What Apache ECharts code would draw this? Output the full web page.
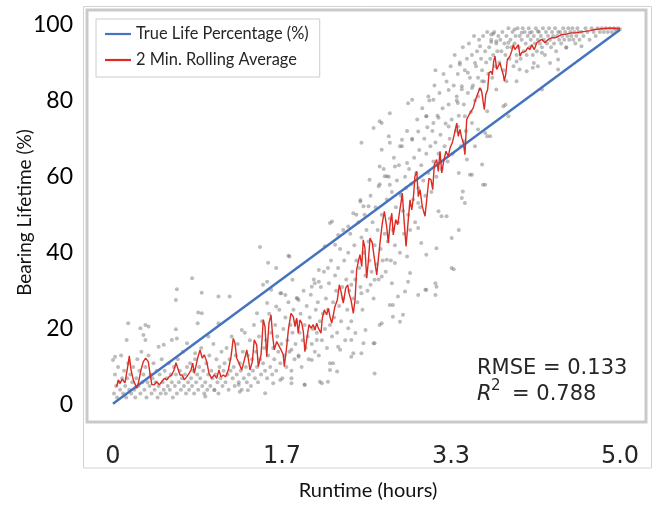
<!DOCTYPE html>
<html>
<head>
<meta charset="utf-8">
<script src="https://cdn.jsdelivr.net/npm/echarts@6/dist/echarts.min.js"></script>
<style>
  html, body { margin: 0; padding: 0; background: #fff; }
  #chart { width: 654px; height: 506px; }
</style>
</head>
<body>
<div id="chart"></div>
<script>
// tick labels
const xTickValues = [0, 1.667, 3.333, 5.0];
const xTickLabels = ['0', '1.7', '3.3', '5.0'];
const yTickValues = [0, 20, 40, 60, 80, 100];

// true life line (hours, %)
const trueLife = [[0, 0.3], [5.0, 98.6]];

// 2 min rolling average
const rollingX = [
  0.036,0.052,0.069,0.092,0.118,0.145,0.161,0.178,0.200,0.234,0.250,0.276,0.299,0.322,0.348,0.365,0.382,0.407,0.431,0.457,
  0.480,0.506,0.530,0.552,0.579,0.602,0.621,0.638,0.661,0.683,0.703,0.727,0.750,0.769,0.786,0.802,
  0.835,0.858,0.881,0.900,0.924,0.947,0.973,0.999,1.023,1.045,1.065,1.088,1.111,1.137,1.164,1.186,1.203,1.220,1.243,1.269,
  1.295,1.319,1.334,1.351,1.374,1.393,1.417,1.433,1.460,1.482,1.499,1.516,1.538,1.558,1.575,1.591,1.614,1.630,1.657,1.679,
  1.689,1.713,1.729,1.755,1.778,
  1.795,1.812,1.827,1.844,1.861,1.877,1.893,1.910,1.933,1.953,1.975,1.992,2.009,2.025,2.051,2.064,2.084,2.107,2.123,2.140,
  2.157,2.173,2.189,2.212,2.232,2.249,2.271,2.295,2.315,2.327,2.347,2.370,2.387,2.403,2.419,2.436,2.453,2.468,2.485,2.502,
  2.518,2.535,2.557,2.577,2.601,
  2.633,2.656,2.676,2.699,2.715,2.732,2.749,2.764,2.788,2.808,2.824,2.840,2.853,2.870,2.890,2.912,2.929,2.946,2.962,2.978,
  2.995,3.011,3.028,3.050,3.077,3.097,3.116,3.136,3.153,3.169,3.192,3.208,3.225,3.242,3.264,3.284,3.307,3.323,3.346,3.366,
  3.390,3.405,3.422,3.439,3.455,3.471,3.488,3.504,3.521,3.538,3.553,3.570,3.587,3.603,3.619,3.636,3.652,3.662,3.676,3.695,
  3.708,3.728,3.741,3.754,3.767,3.784,3.800,3.817,3.833,3.849,3.859,3.873,3.889,3.915,3.932,3.948,3.964,3.981,3.997,4.014,
  4.031,4.046,4.070,4.090,4.112,4.129,4.155,
  4.179,4.194,4.228,4.260,4.293,4.326,4.359,4.391,4.425,4.458,4.490,4.524,4.556,4.606,4.655,4.704,4.753,4.820,4.885,4.951,
  5.000
];
const rollingY = [
  4.8,6.6,5.7,6.8,5.8,10.1,12.9,9.2,6.6,4.4,5.7,9.2,11.4,12.3,11.4,8.3,5.4,5.3,6.1,5.3,
  6.1,7.0,6.6,7.4,7.9,9.2,11.1,11.0,7.9,7.9,6.6,7.4,8.3,9.2,11.0,8.3,
  12.3,14.5,12.3,13.2,11.4,8.3,7.0,7.9,7.0,9.2,7.4,7.9,7.4,9.2,12.7,17.5,16.2,12.3,11.0,9.2,
  11.8,14.5,12.3,9.2,11.4,17.1,15.8,10.1,13.2,22.4,20.6,12.7,21.5,23.7,18.0,14.5,16.7,17.1,14.5,13.2,
  10.1,15.3,19.7,24.1,23.2,
  20.6,22.8,18.9,22.4,21.5,19.3,14.0,17.1,21.1,20.2,21.1,19.7,21.5,20.2,18.9,22.8,25.0,23.7,25.4,23.2,
  21.5,23.7,25.9,27.6,31.6,29.8,26.8,30.7,31.6,29.4,27.6,24.1,27.6,35.5,37.7,39.5,36.4,43.4,41.2,33.3,
  37.7,43.9,42.6,38.6,34.2,
  42.6,47.8,50.9,46.9,42.6,47.4,50.4,44.7,48.7,47.4,50.4,53.1,55.7,48.7,41.7,48.7,53.9,51.3,54.4,60.1,
  61.4,54.8,56.6,52.2,49.6,54.8,59.6,59.2,56.6,63.2,64.5,61.4,66.7,61.0,64.5,66.7,65.3,67.5,68.9,71.1,
  74.1,70.6,72.4,70.2,68.9,65.8,75.0,75.9,76.7,77.2,78.1,79.8,81.1,81.6,83.3,82.4,79.4,77.6,81.6,82.9,
  87.3,87.7,86.8,90.3,91.7,88.2,87.7,89.9,88.2,86.8,85.1,86.8,90.8,91.7,93.0,94.7,93.4,93.0,94.7,91.7,
  92.6,93.0,93.0,93.9,93.4,94.7,93.4,
  95.2,94.7,96.1,95.2,96.1,96.5,96.5,96.9,97.4,97.4,97.6,97.8,97.8,98.0,98.2,98.4,98.7,98.9,99.0,99.0,
  98.9
];

// raw samples (gray dots), estimated positions
const samples = [
  [0.62,27.6],[0.15,21.5],[0.27,20.2],[0.32,21],[0.35,20.6],[0.30,18.4],[0.32,17.1],[0.135,17.1],[0.62,19.9],[0.58,17.1],
  [0.63,17.5],[0.73,16.2],[0.81,13.6],[0.835,21.5],[0.875,24.1],[0.0,11.8],[0.02,12.7],[0.45,15.3],[0.5,15.8],
  [0.78,33.3],[0.63,30.4],[0.84,24.3],[1.04,28.5],[1.15,28.5],[1.45,41.5],[1.61,36],[1.73,39.2],[1.53,37.4],[1.48,31.6],
  [1.65,29.4],[1.77,32.9],[1.96,31.1],[2.03,32.4],[1.81,28.1],[2.06,5.7],[1.89,5.3],[1.76,5.7],[1.5,3.1],[1.33,3.9],[1.25,3.5],
  [0.875,29.5],[1.52,32.4],[1.56,30.3],[1.66,29.4],[1.70,28.9],[1.52,26.8],[1.61,25.9],[0.94,18],[1.04,21.5],[1.27,19.7],
  [1.42,24.1],[0.91,2.2],[1.0,3.9],[1.24,5.3],[1.58,5.7],[1.65,6.6],[1.76,7],
  [2.44,53.5],[2.47,52.2],[2.14,47.8],[2.40,50],[2.32,46.9],[1.74,39],[2.22,44.7],[2.09,41.7],[2.19,42.1],[2.03,35.5],
  [2.12,36],[1.99,32],[1.83,27.6],[2.35,31.6],[2.45,29.4],[2.54,31.6],[2.58,32.9],[2.57,16.2],[2.49,19.7],[2.39,18.9],
  [2.32,20.2],[2.14,11],[2.21,8.8],[2.04,6.1],[1.89,5.3],[2.12,6.1],[1.96,11.8],[1.83,12.7],[1.76,14.5],[2.01,17.1],
  [2.22,15.3],[2.35,12.7],[2.45,13.6],[2.58,8.3],
  [2.63,74.6],[2.73,68.9],[2.85,69.7],[2.65,67.1],[3.01,71.9],[3.09,75.9],[3.16,74.1],[3.31,73.2],[2.95,69.7],[2.90,63.6],
  [2.78,62.7],[2.68,60.1],[2.62,57.5],[2.73,57.9],[2.83,55.7],[3.01,53.1],[3.21,50.9],[3.24,49.6],[3.29,49.6],[3.34,43.9],
  [3.19,41.2],[3.09,39.5],[3.01,46.5],[3.04,42.6],[2.90,39],[2.78,37.3],[2.70,38.2],[2.65,33.8],[2.75,32],[2.88,29.8],
  [2.76,26.3],[2.86,23.7],[2.65,21.5],[3.08,30.3],[3.18,28.9],[2.91,32.4],[3.34,36],
  [3.42,89.5],[3.62,94.3],[3.73,97.4],[3.78,95.6],[3.90,95.2],[3.96,98.7],[4.03,97.8],[4.11,97.8],[4.19,98.2],[3.57,89.9],
  [3.50,87.3],[3.44,83.8],[3.39,81.1],[3.40,79.4],[3.54,83.3],[3.64,85.1],[3.60,81.1],[3.78,82.9],[3.88,85.1],[3.98,85.1],
  [4.08,87.7],[4.14,88.6],[3.87,78.9],[3.69,77.2],[3.47,75.9],[3.54,74.1],[3.40,73.2],[3.60,72.4],[3.69,70.6],[3.72,70.6],
  [3.57,68],[3.49,64.5],[3.64,63.2],[3.41,61],[3.52,60.5],[3.65,57.9],[3.45,56.1],[3.44,54.4],[3.47,53.1],
  [4.47,93.9],[4.62,94.3],[4.23,92.6],[4.31,89.9],[4.19,89],[4.39,88.2],[4.39,90.8],[4.23,82.9],
  [3.75,97.6],[3.73,95.4],[3.18,88.0],[3.31,82.8],[2.95,80.2],[2.91,79.3],[3.11,81.1],[3.16,80.2],[2.73,76.7],[3.09,75.9],
  [3.21,75.5],[2.57,72.8],[2.65,74.1],[2.45,68.9],[2.72,70.6],[2.83,68],[2.63,62.7],[2.53,59.2],[2.70,60.1],[2.44,53.9],
  [2.52,52.2],[2.37,50.4],[2.16,48.2],[2.27,46],[3.67,57.9],[3.41,46],[3.54,60.5],[3.85,78.5],[3.90,75.9],[4.01,88.2],
  [3.98,90.3],[4.15,89.9],[3.67,71.5],[3.46,69.3],
  [3.36,35.7],[3.18,32],[3.09,30.3],[2.93,34.7],[2.81,28.5],[2.73,26.3],[2.63,21],[2.47,16.2],[2.35,17.1],[2.24,14.5],
  [2.17,11],[3.01,28.9],[3.19,31.1],[2.76,23.2],[2.83,21.9],[2.58,16.2],[2.37,13.6],[2.14,9.2],
  // dense band
  [0.01,3],[0.02,8],[0.03,5],[0.04,2],[0.05,10],[0.06,6],[0.07,4],[0.08,13],[0.09,7],[0.10,3],
  [0.11,9],[0.12,5],[0.13,2],[0.14,7],[0.15,11],[0.16,4],[0.17,8],[0.18,3],[0.19,6],[0.20,10],
  [0.21,4],[0.22,2],[0.23,7],[0.24,12],[0.25,5],[0.26,9],[0.27,3],[0.28,14],[0.29,6],[0.30,8],
  [0.31,4],[0.32,10],[0.33,2],[0.34,6],[0.35,13],[0.36,5],[0.37,8],[0.38,3],[0.39,7],[0.40,11],
  [0.41,4],[0.42,6],[0.43,9],[0.44,2],[0.45,5],[0.46,8],[0.47,3],[0.48,12],[0.49,6],[0.50,4],
  [0.51,9],[0.52,3],[0.53,7],[0.54,5],[0.55,11],[0.56,4],[0.57,8],[0.58,6],[0.59,2],[0.60,10],
  [0.61,5],[0.62,8],[0.63,3],[0.64,12],[0.65,6],[0.66,9],[0.67,4],[0.68,7],[0.69,14],[0.70,5],
  [0.71,8],[0.72,3],[0.73,10],[0.74,6],[0.75,4],[0.76,11],[0.77,7],[0.78,5],[0.79,9],[0.80,3],
  [0.81,12],[0.82,6],[0.83,8],[0.84,4],[0.85,10],[0.86,7],[0.87,15],[0.88,5],[0.89,9],[0.90,3],
  [0.91,6],[0.92,11],[0.93,4],[0.94,8],[0.95,13],[0.96,5],[0.97,9],[0.98,7],[0.99,16],[1.00,4],
  [1.01,8],[1.02,12],[1.03,6],[1.04,3],[1.05,10],[1.06,7],[1.07,14],[1.08,5],[1.09,9],[1.10,11],
  [1.11,6],[1.12,15],[1.13,8],[1.14,4],[1.15,12],[1.16,9],[1.17,18],[1.18,7],[1.19,10],[1.20,5],
  [1.21,13],[1.22,8],[1.23,16],[1.24,6],[1.25,11],[1.26,9],[1.27,4],[1.28,14],[1.29,7],[1.30,19],
  [1.31,10],[1.32,6],[1.33,13],[1.34,8],[1.35,17],[1.36,5],[1.37,12],[1.38,9],[1.39,21],[1.40,7],
  [1.41,14],[1.42,10],[1.43,6],[1.44,18],[1.45,12],[1.46,8],[1.47,22],[1.48,11],[1.49,15],[1.50,9],
  [1.51,17],[1.52,7],[1.53,13],[1.54,24],[1.55,10],[1.56,19],[1.57,8],[1.58,15],[1.59,12],[1.60,21],
  [1.61,9],[1.62,18],[1.63,14],[1.64,25],[1.65,11],[1.66,16],[1.67,7],[1.68,20],[1.69,13],[1.70,23],
  [1.71,10],[1.72,17],[1.73,27],[1.74,14],[1.75,21],[1.76,9],[1.77,19],[1.78,25],[1.79,12],[1.80,16],
  [1.81,22],[1.82,28],[1.83,13],[1.84,19],[1.85,24],[1.86,10],[1.87,17],[1.88,30],[1.89,21],[1.90,15],
  [1.91,26],[1.92,18],[1.93,12],[1.94,23],[1.95,29],[1.96,16],[1.97,20],[1.98,33],[1.99,14],[2.00,25],
  [2.01,19],[2.02,27],[2.03,13],[2.04,22],[2.05,31],[2.06,17],[2.07,24],[2.08,35],[2.09,20],[2.10,28],
  [2.11,15],[2.12,25],[2.13,32],[2.14,21],[2.15,38],[2.16,18],[2.17,27],[2.18,23],[2.19,34],[2.20,30],
  [2.21,19],[2.22,36],[2.23,26],[2.24,41],[2.25,22],[2.26,31],[2.27,28],[2.28,38],[2.29,17],[2.30,33],
  [2.31,25],[2.32,40],[2.33,30],[2.34,45],[2.35,22],[2.36,35],[2.37,28],[2.38,42],[2.39,33],[2.40,38],
  [2.41,27],[2.42,48],[2.43,36],[2.44,31],[2.45,44],[2.46,25],[2.47,40],[2.48,50],[2.49,34],[2.50,46],
  [2.51,30],[2.52,43],[2.53,38],[2.54,55],[2.55,35],[2.56,48],[2.57,28],[2.58,42],[2.59,52],[2.60,37],
  [2.61,46],[2.62,33],[2.63,58],[2.64,41],[2.65,50],[2.66,38],[2.67,62],[2.68,45],[2.69,35],[2.70,54],
  [2.71,43],[2.72,60],[2.73,49],[2.74,38],[2.75,56],[2.76,46],[2.77,65],[2.78,42],[2.79,52],[2.80,59],
  [2.81,48],[2.82,63],[2.83,40],[2.84,55],[2.85,68],[2.86,51],[2.87,45],[2.88,60],[2.89,57],[2.90,72],
  [2.91,50],[2.92,62],[2.93,46],[2.94,58],[2.95,70],[2.96,54],[2.97,65],[2.98,48],[2.99,61],[3.00,75],
  [3.01,57],[3.02,67],[3.03,52],[3.04,63],[3.05,78],[3.06,59],[3.07,70],[3.08,55],[3.09,66],[3.10,73],
  [3.11,61],[3.12,80],[3.13,68],[3.14,56],[3.15,72],[3.16,64],[3.17,84],[3.18,69],[3.19,60],[3.20,76],
  [3.21,66],[3.22,82],[3.23,71],[3.24,62],[3.25,78],[3.26,87],[3.27,68],[3.28,74],[3.29,85],[3.30,64],
  [3.31,79],[3.32,70],[3.33,89],[3.34,75],[3.35,66],[3.36,84],[3.37,92],[3.38,72],[3.39,80],[3.40,87],
  [3.41,76],[3.42,90],[3.43,68],[3.44,83],[3.45,94],[3.46,79],[3.47,88],[3.48,72],[3.49,91],[3.50,82],
  [3.51,95],[3.52,86],[3.53,77],[3.54,92],[3.55,84],[3.56,97],[3.57,80],[3.58,89],[3.59,93],[3.60,86],
  [3.61,96],[3.62,83],[3.63,91],[3.64,88],[3.65,97],[3.66,85],[3.67,93],[3.68,90],[3.69,98],[3.70,87],
  [3.71,94],[3.72,91],[3.73,96],[3.74,86],[3.75,92],[3.76,98],[3.77,89],[3.78,95],[3.79,93],[3.80,97],
  [3.81,90],[3.82,96],[3.83,93],[3.84,98],[3.85,88],[3.86,95],[3.87,92],[3.88,97],[3.89,94],[3.90,99],
  [3.91,91],[3.92,96],[3.93,94],[3.94,98],[3.95,89],[3.96,95],[3.97,97],[3.98,92],[3.99,99],[4.00,94],
  [4.01,97],[4.02,91],[4.03,96],[4.04,99],[4.05,93],[4.06,98],[4.07,95],[4.08,92],[4.09,97],[4.10,99],
  [4.11,94],[4.12,96],[4.13,98],[4.14,92],[4.15,97],[4.16,95],[4.17,99],[4.18,93],[4.19,96],[4.20,98],
  [4.21,95],[4.22,97],[4.23,94],[4.24,99],[4.25,96],[4.26,92],[4.27,98],[4.28,95],[4.29,97],[4.30,99],
  [4.31,96],[4.32,94],[4.33,98],[4.34,97],[4.35,95],[4.36,99],[4.37,93],[4.38,97],[4.39,98],[4.40,96],
  [4.41,98],[4.42,95],[4.43,97],[4.44,99],[4.45,96],[4.46,98],[4.47,94],[4.48,97],[4.49,99],[4.50,96],
  [4.51,98],[4.52,97],[4.53,99],[4.54,96],[4.55,98],[4.56,95],[4.57,97],[4.58,99],[4.59,98],[4.60,96],
  [4.62,98],[4.64,97],[4.66,99],[4.68,98],[4.70,96],
  [4.72,99],[4.74,98],[4.76,97],[4.78,99],[4.80,98],[4.82,99],[4.84,98],[4.86,99],[4.88,98],[4.90,99],
  [4.92,98],[4.94,99],[4.96,98.5],[4.98,99],[5.0,98.8]
];

const rolling = rollingX.map((x, i) => [x, rollingY[i]]);

// plain line icon for the legend
const lineIcon = 'path://M0,0 L26,0 L26,2.2 L0,2.2 Z';

const chart = echarts.init(document.getElementById('chart'));
chart.setOption({
  animation: false,
  backgroundColor: '#fff',
  grid: {
    left: 87, top: 10, right: 8, bottom: 84,
    show: true, borderColor: '#c9c9c9', borderWidth: 3,
    containLabel: false
  },
  legend: {
    data: [
      { name: 'True Life Percentage (%)', icon: lineIcon },
      { name: '2 Min. Rolling Average', icon: lineIcon }
    ],
    orient: 'vertical',
    left: 96, top: 19,
    itemWidth: 26, itemHeight: 16, itemGap: 10, itemTextGap: 9,
    padding: [7, 11, 9, 9],
    borderColor: '#cccccc', borderWidth: 1, borderRadius: 0,
    backgroundColor: '#fff',
    textStyle: { fontFamily: 'Lato', fontSize: 16.4, color: '#262626' }
  },
  xAxis: {
    type: 'value', min: -0.2564, max: 5.2564,
    axisLine: { show: false }, axisTick: { show: false }, splitLine: { show: false },
    axisLabel: {
      customValues: xTickValues,
      formatter: v => xTickLabels[xTickValues.indexOf(v)],
      margin: 23, fontFamily: 'DejaVu Sans', fontSize: 24, color: '#262626'
    }
  },
  yAxis: {
    type: 'value', min: -4.47, max: 103.81,
    axisLine: { show: false }, axisTick: { show: false }, splitLine: { show: false },
    axisLabel: {
      customValues: yTickValues,
      margin: 14, fontFamily: 'Lato', fontSize: 23, color: '#000'
    }
  },
  series: [
    {
      type: 'scatter', data: samples, symbolSize: 4, silent: true, z: 1,
      itemStyle: { color: 'rgba(115,115,115,0.6)' }
    },
    {
      name: 'True Life Percentage (%)', type: 'line', data: trueLife, symbol: 'none', z: 2,
      lineStyle: { color: '#4673bd', width: 2.5 }, itemStyle: { color: '#4673bd' }
    },
    {
      name: '2 Min. Rolling Average', type: 'line', data: rolling, symbol: 'none', z: 3,
      lineStyle: { color: '#dc2b23', width: 1.4 }, itemStyle: { color: '#dc2b23' }
    }
  ],
  graphic: [
    {
      type: 'rect', z: -1, silent: true,
      shape: { x: 83.5, y: 6.5, width: 568, height: 461.5 },
      style: { fill: 'none', stroke: '#d2d2d2', lineWidth: 1 }
    },
    {
      type: 'text', x: 24.5, y: 212.5, rotation: Math.PI / 2,
      style: { text: 'Bearing Lifetime (%)', font: '19px Lato', fill: '#111', align: 'center', verticalAlign: 'middle' }
    },
    {
      type: 'text', x: 368, y: 491,
      style: { text: 'Runtime (hours)', font: '20px Lato', fill: '#111', align: 'center', verticalAlign: 'middle' }
    },
    {
      type: 'text', x: 477, y: 369,
      style: { text: 'RMSE = 0.133', font: '21px "DejaVu Sans"', fill: '#262626', verticalAlign: 'middle' }
    },
    {
      type: 'text', x: 477, y: 395,
      style: { text: 'R', font: 'italic 21px "DejaVu Sans"', fill: '#262626', verticalAlign: 'middle' }
    },
    {
      type: 'text', x: 491, y: 386,
      style: { text: '2', font: '15px "DejaVu Sans"', fill: '#262626', verticalAlign: 'middle' }
    },
    {
      type: 'text', x: 512, y: 395,
      style: { text: '= 0.788', font: '21px "DejaVu Sans"', fill: '#262626', verticalAlign: 'middle' }
    }
  ]
});
</script>
</body>
</html>
